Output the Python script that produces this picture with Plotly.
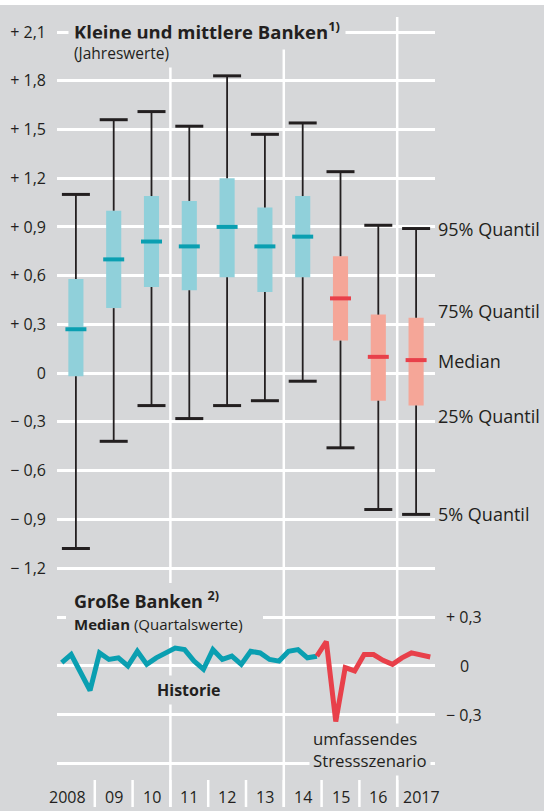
import plotly.graph_objects as go

# Kleine und mittlere Banken (Jahreswerte): Quantile
jahre = [2008, 2009, 2010, 2011, 2012, 2013, 2014, 2015, 2016, 2017]
jahr_labels = ["2008", "09", "10", "11", "12", "13", "14", "15", "16", "2017"]
szenario = [False, False, False, False, False, False, False, True, True, True]
q95 = [1.10, 1.56, 1.61, 1.52, 1.83, 1.47, 1.54, 1.24, 0.91, 0.89]
q75 = [0.58, 1.00, 1.09, 1.06, 1.20, 1.02, 1.09, 0.72, 0.36, 0.34]
median = [0.27, 0.70, 0.81, 0.78, 0.90, 0.78, 0.84, 0.46, 0.10, 0.08]
q25 = [-0.02, 0.40, 0.53, 0.51, 0.59, 0.50, 0.59, 0.20, -0.17, -0.20]
q05 = [-1.08, -0.42, -0.20, -0.28, -0.20, -0.17, -0.05, -0.46, -0.84, -0.87]

# Große Banken, Median (Quartalswerte)
historie = [0.02, 0.07, -0.04, -0.15,
            0.08, 0.04, 0.05, 0.00,
            0.09, 0.01, 0.05, 0.08,
            0.11, 0.10, 0.03, -0.02,
            0.10, 0.04, 0.06, 0.01,
            0.09, 0.08, 0.04, 0.03,
            0.09, 0.10, 0.05, 0.06]
stress = [0.15, -0.34, -0.01, -0.03,
          0.07, 0.07, 0.035, 0.01,
          0.05, 0.08, 0.07, 0.055]

oben_ticks = [2.1, 1.8, 1.5, 1.2, 0.9, 0.6, 0.3, 0.0, -0.3, -0.6, -0.9, -1.2]
oben_labels = ["+ 2,1", "+ 1,8", "+ 1,5", "+ 1,2", "+ 0,9", "+ 0,6", "+ 0,3", "0",
               "\u2212 0,3", "\u2212 0,6", "\u2212 0,9", "\u2212 1,2"]
unten_ticks = [0.3, 0.0, -0.3, -0.6]
unten_labels = ["+ 0,3", "0", "\u2212 0,3", ""]

quantil_labels = ["95% Quantil", "75% Quantil", "Median", "25% Quantil", "5% Quantil"]
quantil_pos = [0.89, 0.385, 0.075, -0.265, -0.87]

BG = "#d6d7d9"
INK = "#231f20"
TEAL = "#0a9fb1"
TEAL_LIGHT = "#90d0da"
RED = "#e8404a"
RED_LIGHT = "#f5a698"
FONT = "Open Sans"

W, H = 544, 811
L, R = 57, 435  # plot area left/right in px


def px(x):
    return (x - L) / (R - L)


def py(y):
    return 1 - y / H


fig = go.Figure()

# whiskers (split so they don't run through the box)
wx, wy = [], []
for j, lo, b0, b1, hi in zip(jahre, q05, q25, q75, q95):
    wx += [j, j, None, j, j, None]
    wy += [lo, b0, None, b1, hi, None]
fig.add_trace(go.Scatter(x=wx, y=wy, mode="lines", line=dict(color=INK, width=1.8),
                         hoverinfo="skip", showlegend=False))

# caps
fig.add_trace(go.Scatter(
    x=jahre + jahre, y=q05 + q95, mode="markers",
    marker=dict(symbol="line-ew", size=20, line=dict(color=INK, width=3)),
    hoverinfo="skip", showlegend=False))

# boxes 25%-75%
fig.add_trace(go.Bar(
    x=jahre, base=q25, y=[b - a for a, b in zip(q25, q75)], width=0.4,
    marker=dict(color=[RED_LIGHT if s else TEAL_LIGHT for s in szenario], line=dict(width=0)),
    hoverinfo="skip", showlegend=False))

# median
fig.add_trace(go.Scatter(
    x=jahre, y=median, mode="markers",
    marker=dict(symbol="line-ew", size=15,
                line=dict(color=[RED if s else TEAL for s in szenario], width=4)),
    hoverinfo="skip", showlegend=False))


# quarterly median, große Banken
def quartal_x(i, start):
    return start + i // 4 - 0.625 + (i % 4 + 1) / 4


hx = [quartal_x(i, 2008) for i in range(len(historie))]
sx = [quartal_x(i, 2015) for i in range(len(stress))]
fig.add_trace(go.Scatter(x=hx, y=historie, yaxis="y2", mode="lines",
                         line=dict(color=TEAL, width=5), hoverinfo="skip", showlegend=False))
fig.add_trace(go.Scatter(x=[hx[-1]] + sx, y=[historie[-1]] + stress, yaxis="y2", mode="lines",
                         line=dict(color=RED, width=5), hoverinfo="skip", showlegend=False))

# axes geometry: top panel 2,1 at y=32px, -1,2 at y=568px; bottom 0,3 at 617px, 163.3 px per unit
k1 = (568 - 32) / 3.3
top_px, bot_px = 16, 584
y1_range = [2.1 - (bot_px - 32) / k1, 2.1 - (top_px - 32) / k1]
k2 = 163.3
top2_px, bot2_px = 588, 782
y2_range = [0.3 - (bot2_px - 617) / k2, 0.3 - (top2_px - 617) / k2]

fig.update_layout(
    width=W, height=H,
    margin=dict(l=L, r=W - R, t=0, b=0, pad=0),
    paper_bgcolor=BG, plot_bgcolor=BG,
    font=dict(family=FONT, color=INK, size=14),
    barmode="overlay",
    hovermode=False,
    xaxis=dict(range=[2007.5, 2017.5], domain=[0, 1], showgrid=False, zeroline=False,
               showticklabels=False, showline=False, ticks=""),
    yaxis=dict(domain=[py(bot_px), py(top_px)], range=y1_range, tickvals=oben_ticks,
               ticktext=oben_labels, showgrid=True, gridcolor="white", gridwidth=2.5,
               zeroline=False, showline=False, ticks="", ticklabelstandoff=10,
               tickfont=dict(size=16, color=INK)),
    yaxis2=dict(domain=[py(bot2_px), py(top2_px)], range=y2_range, tickvals=unten_ticks,
                showgrid=True, gridcolor="white", gridwidth=2.5, zeroline=False,
                showline=False, ticks="", showticklabels=False, anchor="x"),
)

shapes = []
# white strip on top
shapes.append(dict(type="rect", xref="paper", yref="paper", x0=px(0), x1=px(W), y0=py(5), y1=py(-2),
                   fillcolor="white", line=dict(width=0), layer="above"))
# three-year separators running through both panels
for b in [2010.5, 2013.5, 2016.5]:
    shapes.append(dict(type="line", xref="x", yref="paper", x0=b, x1=b, y0=py(807), y1=py(17),
                       line=dict(color="white", width=2.5), layer="below"))
# small year separators at the bottom
for b in [j + 0.5 for j in jahre[:-1]]:
    shapes.append(dict(type="line", xref="x", yref="paper", x0=b, x1=b, y0=py(807), y1=py(780),
                       line=dict(color="white", width=2.5), layer="below"))
# background patch behind the lower panel heading
shapes.append(dict(type="rect", xref="paper", yref="paper", x0=px(66), x1=px(263), y0=py(637), y1=py(583),
                   fillcolor=BG, line=dict(width=0), layer="above"))
fig.update_layout(shapes=shapes)

ann = []


def text(t, x, y, size=14, xanchor="left", pad=0, bg=None, **kw):
    # x, y in px unless xref/yref given; left-anchored boxes start pad px before the text
    xref = kw.pop("xref", "paper")
    yref = kw.pop("yref", "paper")
    if xref == "paper":
        x = px(x - (pad if xanchor == "left" else 0))
    if yref == "paper":
        y = py(y)
    d = dict(text=t, x=x, y=y, xref=xref, yref=yref,
             xanchor=xanchor, yanchor="middle", showarrow=False,
             font=dict(family=FONT, size=size, color=INK), borderpad=pad,
             align=kw.pop("align", "left"))
    if bg:
        d["bgcolor"] = bg
    d.update(kw)
    ann.append(d)


text("<b>Kleine und mittlere Banken<sup>1)</sup></b>", 73, 30, size=18.5, pad=5, bg=BG)
text("(Jahreswerte)", 73, 53, size=15.5, pad=3, bg=BG)
for t, v in zip(quantil_labels, quantil_pos):
    text(t, 437, v, size=18, yref="y")

text("<b>Große Banken <sup>2)</sup></b>", 73, 600, size=18)
text("<b>Median</b> (Quartalswerte)", 73, 623.5, size=15)
text("<b>Historie</b>", 189, 690, size=16, xanchor="center", pad=3, bg=BG)
text("umfassendes<br>Stressszenario", 312, 749, size=16.8, pad=3, bg=BG)

for t, v in zip(unten_labels, unten_ticks):
    if t:
        text(t, 464, v, size=16, xanchor="center", yref="y2")

for t, j in zip(jahr_labels, jahre):
    shift = -8 if j == jahre[0] else (5 if j == jahre[-1] else 0)
    text(t, j, 797, size=16, xanchor="center", xref="x", xshift=shift)

fig.update_layout(annotations=ann)

fig.write_html("out.html", config={"displayModeBar": False},
               post_script="document.body.style.margin = '0';")
